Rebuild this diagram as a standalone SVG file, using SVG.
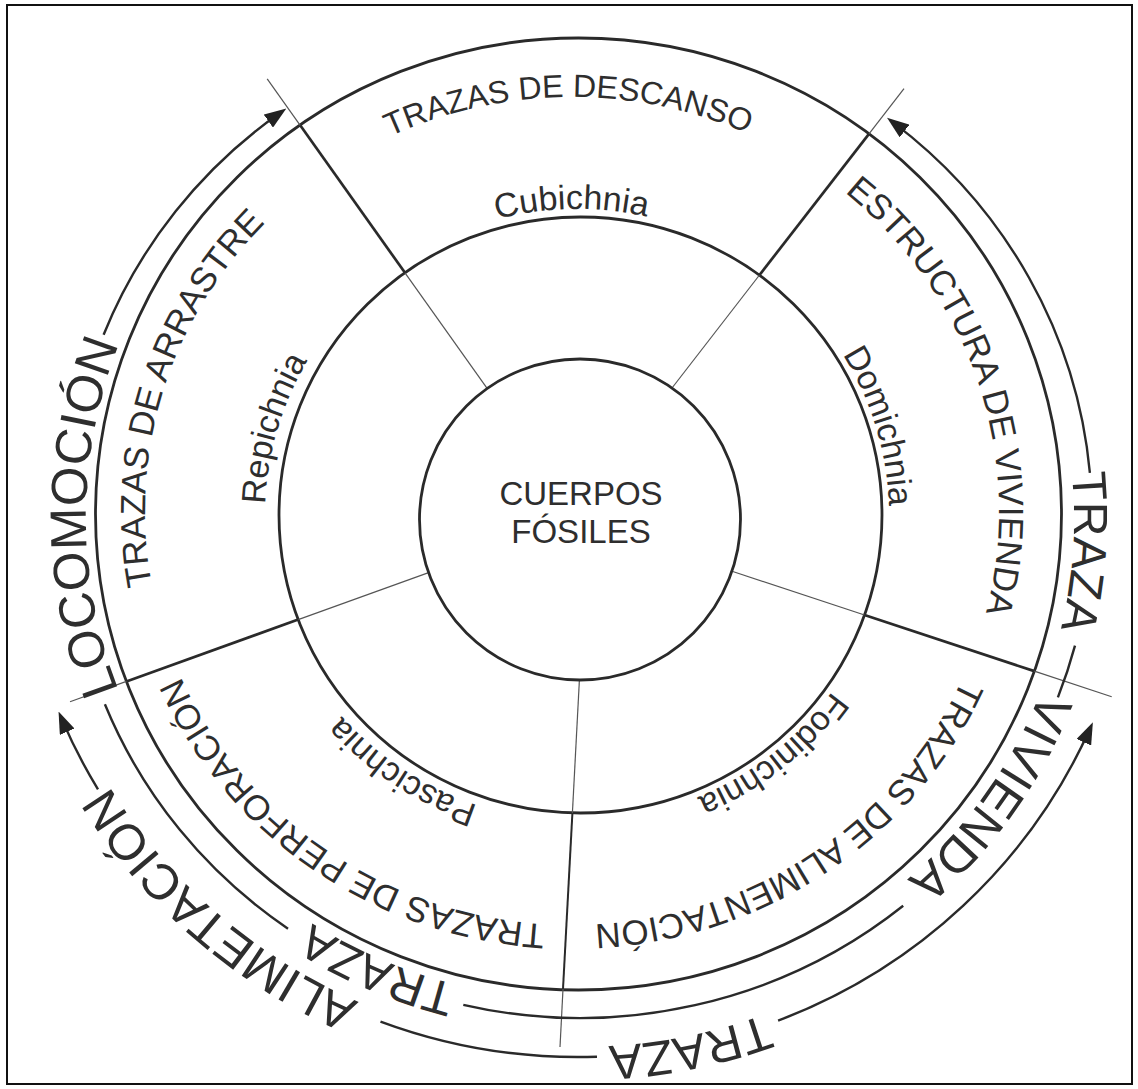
<svg xmlns="http://www.w3.org/2000/svg" width="1138" height="1089" viewBox="0 0 1138 1089">
<style>
.ln{fill:none;stroke:#2a2a2a;stroke-width:2.7}
.thin{fill:none;stroke:#555;stroke-width:1.2}
.arc{fill:none;stroke:#2a2a2a;stroke-width:2.4}
.circ{fill:none;stroke:#2a2a2a;stroke-width:2.8}
text{font-family:"Liberation Sans",Arial,Helvetica,sans-serif;fill:#2e2e2e}
.ring{font-size:35px}
.ich{font-size:34px}
.big{font-size:50px}
</style>
<defs>
<marker id="ah" viewBox="0 0 22 16" refX="14" refY="8" markerWidth="22" markerHeight="16" markerUnits="userSpaceOnUse" orient="auto"><path d="M0,0 L22,8 L0,16 z" fill="#222"/></marker>
<path id="p-descanso" d="M 242.5 247.7 A 427 414 0 0 1 896.7 242.1"/>
<path id="p-estructura" d="M 732.6 127.4 A 427 414 0 0 1 933.7 731"/>
<path id="p-alimentacion" d="M 997.2 548.5 A 427 414 0 0 1 460 910.5"/>
<path id="p-perforacion" d="M 680.4 911.5 A 427 414 0 0 1 146.4 544.9"/>
<path id="p-arrastre" d="M 215.1 738.3 A 427 414 0 0 1 403.1 130.8"/>
<path id="p-cub" d="M 334.5 322.4 A 312 306 0 0 1 812.5 314.2"/>
<path id="p-dom" d="M 701.4 234.4 A 312 306 0 0 1 837.2 683.9"/>
<path id="p-fod" d="M 888.95 520.3 A 312 306 0 0 1 517.5 815.4"/>
<path id="p-pas" d="M 663 809.2 A 312 306 0 0 1 266.7 547"/>
<path id="p-rep" d="M 318.3 686.1 A 312 306 0 0 1 450.1 235.5"/>
<path id="p-loc" d="M 201 827.2 A 494 482 0 0 1 202.1 207.5"/>
<path id="p-trazaR" d="M 979.2 234 A 494 482 0 0 1 936 852.2"/>
<path id="p-viv" d="M 1071.8 472.6 A 494 482 0 0 1 711.2 982.7"/>
<path id="p-trazaI" d="M 717.4 981 A 494 482 0 0 1 136.6 730.4"/>
<path id="p-trazaB" d="M 1007.5 841.6 A 548 542 0 0 1 317.4 981.7"/>
<path id="p-alim" d="M 565.6 1046.9 A 548 542 0 0 1 36.3 587"/>
</defs>
<rect width="1138" height="1089" fill="#fff"/>
<rect x="7" y="5" width="1125" height="1079" fill="none" stroke="#111" stroke-width="2"/>

<g id="rings">
<ellipse class="circ" cx="578.5" cy="514" rx="483" ry="476"/>
<ellipse class="circ" cx="580.5" cy="515" rx="301.5" ry="298"/>
</g>

<g id="connectors">
<g id="spokes-inner">
<line class="thin" x1="487.3" y1="388.6" x2="405" y2="272.8"/>
<line class="thin" x1="672" y1="388" x2="759.5" y2="275"/>
<line class="thin" x1="732" y1="571.3" x2="864.5" y2="615"/>
<line class="thin" x1="428.6" y1="572.6" x2="298.2" y2="619.6"/>
<line class="thin" x1="579.4" y1="680" x2="572.4" y2="813"/>
</g>
<g id="spokes-outer">
<line class="ln" x1="405" y1="272.8" x2="300.2" y2="125.3"/>
<line class="ln" x1="759.5" y1="275" x2="869" y2="133.8"/>
<line class="ln" x1="864.5" y1="615" x2="1034.3" y2="671.1"/>
<line class="ln" x1="298.2" y1="619.6" x2="126.4" y2="681.4"/>
<line class="ln" style="stroke-width:2" x1="572.4" y1="813" x2="563" y2="989"/>
</g>
<g id="spokes-ext">
<line class="thin" x1="300.2" y1="125.3" x2="267.2" y2="78.8"/>
<line class="thin" x1="869" y1="133.8" x2="904" y2="88.6"/>
<line class="thin" x1="1034.3" y1="671.1" x2="1111.7" y2="696.7"/>
<line class="thin" x1="126.4" y1="681.4" x2="70" y2="701.7"/>
<line class="thin" x1="563" y1="989" x2="560" y2="1047"/>
</g>
<g id="arrow-arcs">
<path class="arc" d="M 103.6 334.7 A 512 500 0 0 1 279.8 113" marker-end="url(#ah)"/>
<path class="arc" d="M 1089.9 472.9 A 512 500 0 0 0 893.4 122.6" marker-end="url(#ah)"/>
<path class="arc" d="M 1075 645.6 A 512 500 0 0 1 1057.9 697.4"/>
<path class="arc" d="M 903.2 905.8 A 512 500 0 0 1 463.3 1004.8"/>
<path class="arc" d="M 288 928.7 A 512 500 0 0 1 104.9 704.3"/>
<path class="arc" d="M 778.1 1020.6 A 560 552 0 0 0 1089.6 729.5" marker-end="url(#ah)"/>
<path class="arc" d="M 597 1056.7 A 560 552 0 0 1 380.5 1021.6"/>
<path class="arc" d="M 98 789.3 A 560 552 0 0 1 61.7 718.9" marker-end="url(#ah)"/>
</g>
</g>

<g id="node-cuerpos-fosiles">
<circle class="circ" cx="580" cy="519.5" r="160.5" fill="#fff"/>
<text x="581" y="505" font-size="33" text-anchor="middle">CUERPOS</text>
<text x="581" y="543" font-size="33" text-anchor="middle">FÓSILES</text>
</g>

<g id="node-descanso">
<text class="ring" text-anchor="middle" style="font-size:32px"><textPath href="#p-descanso" startOffset="50%">TRAZAS DE DESCANSO</textPath></text>
<text class="ich" text-anchor="middle"><textPath href="#p-cub" startOffset="50%">Cubichnia</textPath></text>
</g>
<g id="node-vivienda">
<text class="ring" text-anchor="middle"><textPath href="#p-estructura" startOffset="50%">ESTRUCTURA DE VIVIENDA</textPath></text>
<text class="ich" text-anchor="middle"><textPath href="#p-dom" startOffset="50%">Domichnia</textPath></text>
</g>
<g id="node-alimentacion">
<text class="ring" text-anchor="middle"><textPath href="#p-alimentacion" startOffset="50%">TRAZAS DE ALIMENTACIÓN</textPath></text>
<text class="ich" text-anchor="middle"><textPath href="#p-fod" startOffset="50%">Fodinichnia</textPath></text>
</g>
<g id="node-perforacion">
<text class="ring" text-anchor="middle"><textPath href="#p-perforacion" startOffset="50%">TRAZAS DE PERFORACIÓN</textPath></text>
<text class="ich" text-anchor="middle"><textPath href="#p-pas" startOffset="50%">Pascichnia</textPath></text>
</g>
<g id="node-arrastre">
<text class="ring" text-anchor="middle"><textPath href="#p-arrastre" startOffset="50%">TRAZAS DE ARRASTRE</textPath></text>
<text class="ich" text-anchor="middle"><textPath href="#p-rep" startOffset="50%">Repichnia</textPath></text>
</g>

<g id="label-locomocion">
<text class="big" text-anchor="middle" style="font-size:51px"><textPath href="#p-loc" startOffset="50%">LOCOMOCIÓN</textPath></text>
</g>
<g id="label-traza-vivienda">
<text class="big" text-anchor="middle" style="font-size:48px"><textPath href="#p-trazaR" startOffset="50%">TRAZA</textPath></text>
<text class="big" text-anchor="middle"><textPath href="#p-viv" startOffset="50%">VIVIENDA</textPath></text>
<text class="big" text-anchor="middle" style="font-size:48px"><textPath href="#p-trazaI" startOffset="50%">TRAZA</textPath></text>
</g>
<g id="label-traza-alimetacion">
<text class="big" text-anchor="middle" style="font-size:49px"><textPath href="#p-trazaB" startOffset="50%">TRAZA</textPath></text>
<text class="big" text-anchor="middle"><textPath href="#p-alim" startOffset="50%">ALIMETACIÓN</textPath></text>
</g>
</svg>
